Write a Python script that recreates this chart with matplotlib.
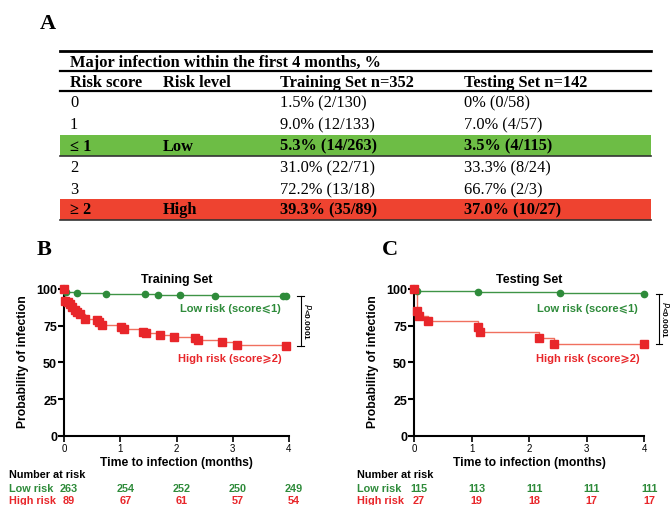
import matplotlib
matplotlib.use("Agg")
import matplotlib.pyplot as plt
import matplotlib.transforms as mtransforms

# ---- table data (panel A) ----
table_title = "Major infection within the first 4 months, %"
col_heads = ["Risk score", "Risk level", "Training Set n=352", "Testing Set n=142"]
score_col = ["0", "1", "\u2264 1", "2", "3", "\u2265 2"]
level_col = ["", "", "Low", "", "", "High"]
train_col = ["1.5% (2/130)", "9.0% (12/133)", "5.3% (14/263)",
             "31.0% (22/71)", "72.2% (13/18)", "39.3% (35/89)"]
test_col = ["0% (0/58)", "7.0% (4/57)", "3.5% (4/115)",
            "33.3% (8/24)", "66.7% (2/3)", "37.0% (10/27)"]
row_fill = [None, None, "#6dbd45", None, None, "#ee4330"]

# ---- KM curves (panels B, C) ----
tr_low_t = [0, 0.04, 0.23, 0.75, 1.44, 1.67, 2.06, 2.69, 3.90, 3.95]
tr_low_s = [100, 97.7, 97.3, 96.8, 96.4, 95.9, 95.7, 95.5, 94.9, 94.9]
tr_high_t = [0, 0.02, 0.07, 0.10, 0.15, 0.19, 0.23, 0.28, 0.37, 0.59, 0.63, 0.68,
             1.02, 1.06, 1.40, 1.46, 1.70, 1.95, 2.33, 2.39, 2.81, 3.07, 3.95]
tr_high_s = [100, 92.0, 90.9, 89.8, 87.5, 85.7, 84.5, 83.0, 79.5, 78.9, 77.3, 75.5,
             74.3, 72.7, 70.9, 69.8, 68.6, 67.5, 66.4, 65.2, 64.0, 61.6, 61.3]
te_low_t = [0, 0.05, 1.11, 2.54, 4.0]
te_low_s = [100, 98.4, 97.8, 97.2, 96.9]
te_high_t = [0, 0.05, 0.08, 0.25, 1.11, 1.14, 2.17, 2.44, 4.0]
te_high_s = [100, 85.2, 81.8, 78.0, 74.1, 70.5, 66.4, 62.9, 62.9]

months = [0, 1, 2, 3, 4]
tr_risk_low = [263, 254, 252, 250, 249]
tr_risk_high = [89, 67, 61, 57, 54]
te_risk_low = [115, 113, 111, 111, 111]
te_risk_high = [27, 19, 18, 17, 17]

GREEN = "#2e8b3a"
GREEN_LINE = "#3f9446"
RED = "#e8262a"
RED_LINE = "#f0705f"
SERIF = "Liberation Serif"
SANS = "Liberation Sans"
SYM = [SANS, "DejaVu Sans"]

W, H = 670, 506
fig = plt.figure(figsize=(W / 100, H / 100), dpi=100)

# overlay in pixel coords for panel A
ax0 = fig.add_axes([0, 0, 1, 1])
ax0.set_xlim(0, W)
ax0.set_ylim(H, 0)
ax0.axis("off")

ax0.text(40, 24, "A", fontsize=16, fontweight="bold", family=SERIF, va="center")
ax0.text(37, 250, "B", fontsize=16, fontweight="bold", family=SERIF, va="center")
ax0.text(382, 250, "C", fontsize=16, fontweight="bold", family=SERIF, va="center")

x0, x1 = 60, 651
cols_x = [70, 163, 280, 464]
fs = 11.8
ax0.plot([x0, x1], [51.5, 51.5], color="black", lw=2)
ax0.plot([x0, x1], [71.5, 71.5], color="black", lw=1.6)
ax0.plot([x0, x1], [92, 92], color="black", lw=1.6)
ax0.text(cols_x[0], 62.5, table_title, fontsize=fs, fontweight="bold", family=SERIF, va="center")
for cx, head in zip(cols_x, col_heads):
    ax0.text(cx, 82.5, head, fontsize=fs, fontweight="bold", family=SERIF, va="center")

row_y = [103, 125, 146.5, 168, 190, 210.5]
for i, y in enumerate(row_y):
    fill = row_fill[i]
    bold = "bold" if fill else "normal"
    if fill:
        ax0.add_patch(plt.Rectangle((x0, y - 10.3), x1 - x0, 20.8, color=fill, lw=0))
        ax0.plot([x0, x1], [y + 10.7, y + 10.7], color="#333333", lw=1.2)
    for cx, val in zip(cols_x, [score_col[i], level_col[i], train_col[i], test_col[i]]):
        ax0.text(cx, y, val, fontsize=fs, fontweight=bold, family=SERIF, va="center")


def km_panel(rect, title, lo_t, lo_s, hi_t, hi_s, risk_lo, risk_hi, lab_x, brk_x, lab_px):
    ax = fig.add_axes(rect)
    ax.step(lo_t, lo_s, where="post", color=GREEN_LINE, lw=1, clip_on=False)
    ax.plot(lo_t, lo_s, "o", color=GREEN, ms=4.5, clip_on=False, zorder=5)
    ax.step(hi_t, hi_s, where="post", color=RED_LINE, lw=1, clip_on=False)
    ax.plot(hi_t, hi_s, "s", color=RED, ms=5.2, clip_on=False, zorder=5)
    ax.set_xlim(0, 4)
    ax.set_ylim(0, 102)
    ax.set_yticks([0, 25, 50, 75, 100])
    ax.set_xticks(months)
    for s in ["top", "right"]:
        ax.spines[s].set_visible(False)
    for s in ["left", "bottom"]:
        ax.spines[s].set_linewidth(1.5)
    ax.tick_params(axis="y", width=1.5, length=4, labelsize=9, pad=1)
    ax.tick_params(axis="x", width=1.2, length=4, labelsize=7, pad=1)
    for lb in ax.get_yticklabels():
        lb.set_fontweight("bold")
        lb.set_family(SANS)
    for lb in ax.get_xticklabels():
        lb.set_family(SANS)
    ax.set_title(title, fontsize=9, fontweight="bold", family=SANS, pad=3)
    ax.set_ylabel("Probability of infection", fontsize=8.7, fontweight="bold", family=SANS, labelpad=5)
    ax.set_xlabel("Time to infection (months)", fontsize=8.7, fontweight="bold", family=SANS, labelpad=2)

    ax.text(lab_x, 87.2, "Low risk (score\u2a7d1)", color=GREEN, fontsize=8, fontweight="bold",
            family=SYM, ha="center", va="center")
    ax.text(lab_x, 53.3, "High risk (score\u2a7e2)", color=RED, fontsize=8, fontweight="bold",
            family=SYM, ha="center", va="center")

    top, bot = lo_s[-1], hi_s[-1]
    ax.plot([brk_x, brk_x], [bot, top], color="black", lw=0.8, clip_on=False)
    for yy in (top, bot):
        ax.plot([brk_x - 0.06, brk_x + 0.06], [yy, yy], color="black", lw=0.8, clip_on=False)
    ax.text(brk_x + 0.11, (top + bot) / 2, "$\\it{P}$<0.0001", rotation=270, fontsize=6,
            fontweight="bold", family=SANS, ha="center", va="center")

    tr = mtransforms.blended_transform_factory(ax.transData, fig.transFigure)
    rfs = 7.8
    fig.text(lab_px / W, 1 - 475 / H, "Number at risk", fontsize=rfs, fontweight="bold",
             family=SANS, va="center")
    fig.text(lab_px / W, 1 - 489 / H, "Low risk", fontsize=rfs, fontweight="bold",
             family=SANS, va="center", color=GREEN)
    fig.text(lab_px / W, 1 - 501 / H, "High risk", fontsize=rfs, fontweight="bold",
             family=SANS, va="center", color=RED)
    for m, a, b in zip(months, risk_lo, risk_hi):
        ax.text(m + 0.09, 1 - 489 / H, str(a), transform=tr, fontsize=rfs, fontweight="bold",
                family=SANS, ha="center", va="center", color=GREEN, clip_on=False)
        ax.text(m + 0.09, 1 - 501 / H, str(b), transform=tr, fontsize=rfs, fontweight="bold",
                family=SANS, ha="center", va="center", color=RED, clip_on=False)
    return ax


km_panel([64 / W, 69 / H, 225 / W, 150 / H], "Training Set",
         tr_low_t, tr_low_s, tr_high_t, tr_high_s, tr_risk_low, tr_risk_high,
         lab_x=2.95, brk_x=4.21, lab_px=9)
km_panel([414 / W, 69 / H, 230 / W, 150 / H], "Testing Set",
         te_low_t, te_low_s, te_high_t, te_high_s, te_risk_low, te_risk_high,
         lab_x=3.02, brk_x=4.26, lab_px=357)

fig.savefig("out.png", dpi=100)
